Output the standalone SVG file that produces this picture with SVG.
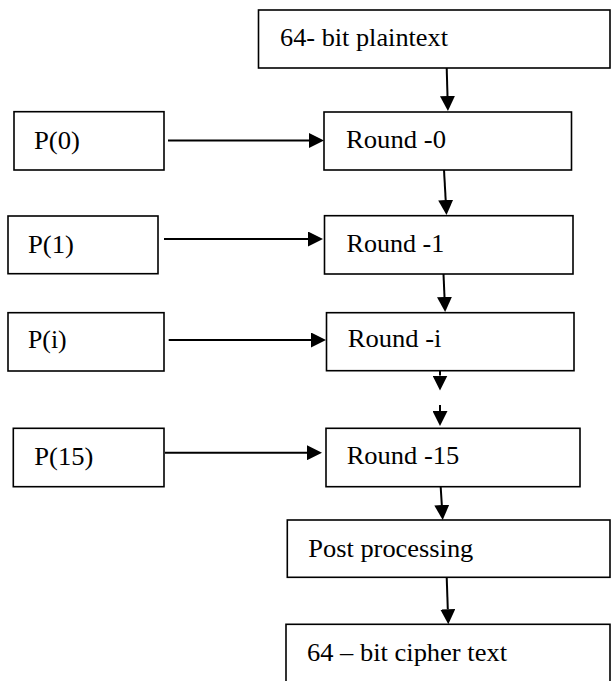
<svg xmlns="http://www.w3.org/2000/svg" width="611" height="681" viewBox="0 0 611 681">
<style>
.box{fill:#fff;stroke:#000;stroke-width:1.6}
.lbl{font-family:'Liberation Serif','Times New Roman',serif;font-size:26px;fill:#000}
.conn{stroke:#000;stroke-width:2;fill:none}
</style>
<defs>
<marker id="ah" viewBox="0 0 15 15" refX="0" refY="7.5" markerWidth="15" markerHeight="15" markerUnits="userSpaceOnUse" orient="auto">
<path d="M0,0 L15,7.5 L0,15 z" fill="#000"/>
</marker>
</defs>
<rect width="611" height="681" fill="#fff"/>
<g id="plaintext"><rect class="box" x="258.5" y="10" width="351.5" height="58"/><text class="lbl" x="280" y="46" textLength="168" lengthAdjust="spacingAndGlyphs">64- bit plaintext</text></g>
<g id="round0"><rect class="box" x="324" y="112" width="247.5" height="58"/><text class="lbl" x="346" y="148" textLength="100" lengthAdjust="spacingAndGlyphs">Round -0</text></g>
<g id="p0"><rect class="box" x="14" y="111.7" width="150" height="58.3"/><text class="lbl" x="34" y="149" textLength="46" lengthAdjust="spacingAndGlyphs">P(0)</text></g>
<g id="round1"><rect class="box" x="324.5" y="215.7" width="248.5" height="58.3"/><text class="lbl" x="346.5" y="252" textLength="97.7" lengthAdjust="spacingAndGlyphs">Round -1</text></g>
<g id="p1"><rect class="box" x="8" y="216" width="150" height="57.7"/><text class="lbl" x="28" y="252.7" textLength="46" lengthAdjust="spacingAndGlyphs">P(1)</text></g>
<g id="roundi"><rect class="box" x="326.5" y="312.7" width="247.5" height="58"/><text class="lbl" x="347.7" y="347" textLength="93.7" lengthAdjust="spacingAndGlyphs">Round -i</text></g>
<g id="pi"><rect class="box" x="8" y="312.7" width="156" height="58.3"/><text class="lbl" x="28" y="348" textLength="38.7" lengthAdjust="spacingAndGlyphs">P(i)</text></g>
<g id="round15"><rect class="box" x="326" y="428.3" width="254" height="58.4"/><text class="lbl" x="346.7" y="464" textLength="112.6" lengthAdjust="spacingAndGlyphs">Round -15</text></g>
<g id="p15"><rect class="box" x="13.3" y="428.3" width="150.7" height="58.4"/><text class="lbl" x="34.3" y="465" textLength="59" lengthAdjust="spacingAndGlyphs">P(15)</text></g>
<g id="post"><rect class="box" x="287.3" y="520" width="322.7" height="57.3"/><text class="lbl" x="308.3" y="556.7" textLength="165" lengthAdjust="spacingAndGlyphs">Post processing</text></g>
<g id="cipher"><rect class="box" x="286" y="624.3" width="324" height="70"/><text class="lbl" x="307" y="661" textLength="200" lengthAdjust="spacingAndGlyphs">64 – bit cipher text</text></g>
<g id="connectors">
<line class="conn" x1="446.7" y1="68" x2="447.5" y2="96" marker-end="url(#ah)"/>
<line class="conn" x1="444" y1="170" x2="445.7" y2="200" marker-end="url(#ah)"/>
<line class="conn" x1="443.5" y1="274" x2="444.5" y2="297" marker-end="url(#ah)"/>
<line class="conn" x1="440" y1="370.7" x2="440" y2="375.5" marker-end="url(#ah)"/>
<line class="conn" x1="440" y1="405" x2="440" y2="411" marker-end="url(#ah)"/>
<line class="conn" x1="440.7" y1="486.7" x2="441.8" y2="505" marker-end="url(#ah)"/>
<line class="conn" x1="446.7" y1="577.3" x2="447.8" y2="609.3" marker-end="url(#ah)"/>
<line class="conn" x1="168" y1="140.5" x2="309" y2="140.5" marker-end="url(#ah)"/>
<line class="conn" x1="164" y1="239" x2="308" y2="239" marker-end="url(#ah)"/>
<line class="conn" x1="168.7" y1="340" x2="311" y2="340" marker-end="url(#ah)"/>
<line class="conn" x1="165" y1="452.7" x2="307" y2="452.7" marker-end="url(#ah)"/>
</g>
</svg>
